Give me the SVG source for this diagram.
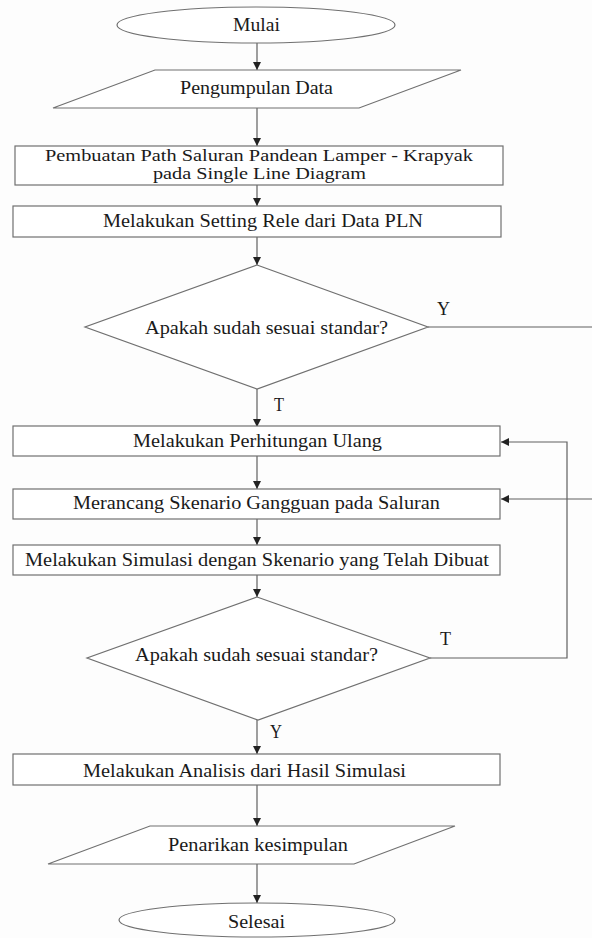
<svg xmlns="http://www.w3.org/2000/svg" width="592" height="938" viewBox="0 0 592 938">
<style>
.shape{fill:#ffffff;stroke:#707070;stroke-width:1.2}
.conn{fill:none;stroke:#606060;stroke-width:1.2}
text{font-family:"Liberation Serif","Times New Roman",serif;font-size:18px;fill:#1a1a1a}
.two{font-size:16px}
</style>
<defs>
<marker id="arr" viewBox="0 0 10 10" refX="10" refY="5" markerWidth="8" markerHeight="8" markerUnits="userSpaceOnUse" orient="auto">
<path d="M0,0 L10,5 L0,10 z" fill="#222"/>
</marker>
</defs>
<rect width="592" height="938" fill="#fdfdfd"/>
<g id="connectors">
<path class="conn" d="M257,43 V70" marker-end="url(#arr)"/>
<path class="conn" d="M257,108 V146" marker-end="url(#arr)"/>
<path class="conn" d="M257,185 V206" marker-end="url(#arr)"/>
<path class="conn" d="M257,237 V265" marker-end="url(#arr)"/>
<path class="conn" d="M257,389 V427" marker-end="url(#arr)"/>
<path class="conn" d="M257,456 V489" marker-end="url(#arr)"/>
<path class="conn" d="M257,519 V545" marker-end="url(#arr)"/>
<path class="conn" d="M257,575 V597" marker-end="url(#arr)"/>
<path class="conn" d="M257,720 V754" marker-end="url(#arr)"/>
<path class="conn" d="M257,785 V826" marker-end="url(#arr)"/>
<path class="conn" d="M257,864 V903" marker-end="url(#arr)"/>
<path class="conn" d="M428,327 H600 V499 H501" marker-end="url(#arr)"/>
<path class="conn" d="M430,658 H567 V442 H501" marker-end="url(#arr)"/>
<text x="437" y="315" textLength="13" lengthAdjust="spacingAndGlyphs">Y</text>
<text x="274" y="411" textLength="10" lengthAdjust="spacingAndGlyphs">T</text>
<text x="440" y="645" textLength="11" lengthAdjust="spacingAndGlyphs">T</text>
<text x="270" y="738" textLength="12" lengthAdjust="spacingAndGlyphs">Y</text>
</g>
<g id="mulai">
<ellipse class="shape" cx="256" cy="25" rx="139" ry="18"/>
<text x="233" y="31" textLength="47" lengthAdjust="spacingAndGlyphs">Mulai</text>
</g>
<g id="pengumpulan">
<polygon class="shape" points="155,70 461,70 359,108 53,108"/>
<text x="180" y="94" textLength="153" lengthAdjust="spacingAndGlyphs">Pengumpulan Data</text>
</g>
<g id="pembuatan">
<rect class="shape" x="15" y="146" width="488" height="39"/>
<text class="two" x="45" y="161" textLength="428" lengthAdjust="spacingAndGlyphs">Pembuatan Path Saluran Pandean Lamper - Krapyak</text>
<text class="two" x="153" y="179" textLength="213" lengthAdjust="spacingAndGlyphs">pada Single Line Diagram</text>
</g>
<g id="setting">
<rect class="shape" x="13" y="206" width="488" height="31"/>
<text x="103" y="227" textLength="320" lengthAdjust="spacingAndGlyphs">Melakukan Setting Rele dari Data PLN</text>
</g>
<g id="cek1">
<polygon class="shape" points="257,265 428,327 257,389 85,327"/>
<text x="145" y="334" textLength="243" lengthAdjust="spacingAndGlyphs">Apakah sudah sesuai standar?</text>
</g>
<g id="perhitungan">
<rect class="shape" x="13" y="426" width="487" height="30"/>
<text x="133" y="447" textLength="249" lengthAdjust="spacingAndGlyphs">Melakukan Perhitungan Ulang</text>
</g>
<g id="merancang">
<rect class="shape" x="13" y="489" width="487" height="30"/>
<text x="73" y="509" textLength="367" lengthAdjust="spacingAndGlyphs">Merancang Skenario Gangguan pada Saluran</text>
</g>
<g id="simulasi">
<rect class="shape" x="13" y="545" width="487" height="30"/>
<text x="25" y="566" textLength="464" lengthAdjust="spacingAndGlyphs">Melakukan Simulasi dengan Skenario yang Telah Dibuat</text>
</g>
<g id="cek2">
<polygon class="shape" points="257,597 430,658 258,720 87,658"/>
<text x="135" y="661" textLength="243" lengthAdjust="spacingAndGlyphs">Apakah sudah sesuai standar?</text>
</g>
<g id="analisis">
<rect class="shape" x="13" y="754" width="487" height="31"/>
<text x="83" y="777" textLength="323" lengthAdjust="spacingAndGlyphs">Melakukan Analisis dari Hasil Simulasi</text>
</g>
<g id="penarikan">
<polygon class="shape" points="150,826 455,826 354,864 48,864"/>
<text x="168" y="851" textLength="180" lengthAdjust="spacingAndGlyphs">Penarikan kesimpulan</text>
</g>
<g id="selesai">
<ellipse class="shape" cx="257" cy="920" rx="138" ry="17"/>
<text x="228" y="928" textLength="57" lengthAdjust="spacingAndGlyphs">Selesai</text>
</g>
</svg>
